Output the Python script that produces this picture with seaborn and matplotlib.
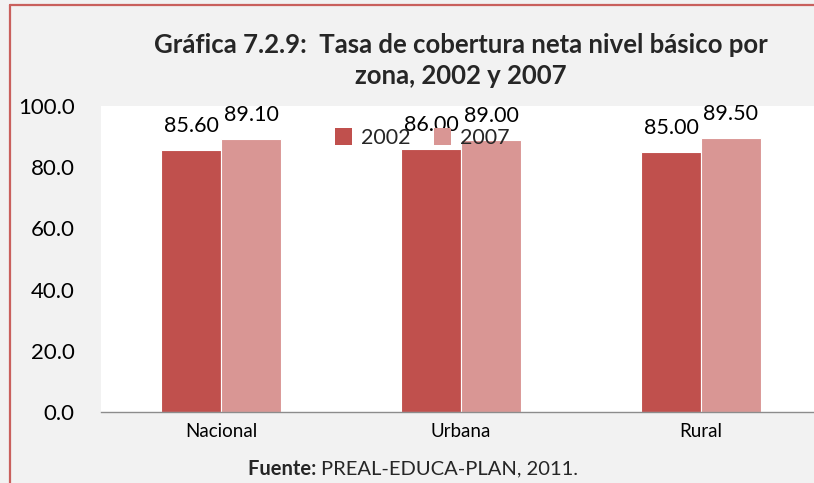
import matplotlib
matplotlib.use("Agg")
import matplotlib.pyplot as plt
from matplotlib.lines import Line2D
from matplotlib.patches import Patch
import seaborn as sns
import pandas as pd

# Data: tasa de cobertura neta, nivel básico, por zona
zonas = ["Nacional", "Urbana", "Rural"]
anios = ["2002", "2007"]
valores_2002 = [85.60, 86.00, 85.00]
valores_2007 = [89.10, 89.00, 89.50]
yticks = [0, 20, 40, 60, 80, 100]

colores = {"2002": "#c0504d", "2007": "#d99694"}
fondo = "#f2f2f2"
fuente = ["Lato", "DejaVu Sans"]

df = pd.DataFrame({
    "Zona": zonas * 2,
    "Año": ["2002"] * 3 + ["2007"] * 3,
    "Tasa": valores_2002 + valores_2007,
})

sns.set_theme(style="white")
plt.rcParams["font.family"] = fuente

W, H = 814, 483
fig = plt.figure(figsize=(W / 100, H / 100), dpi=100, facecolor=fondo)

# plot area in pixel coordinates
x0, x1 = 101, 821
y_top, y_bot = 106, 412
ax = fig.add_axes([x0 / W, 1 - y_bot / H, (x1 - x0) / W, (y_bot - y_top) / H])
ax.set_facecolor("white")

sns.barplot(data=df, x="Zona", y="Tasa", hue="Año", hue_order=anios,
            palette=colores, width=0.5, saturation=1, ax=ax,
            errorbar=None, legend=False, linewidth=0.8, edgecolor="white")

ax.set_xlim(-0.5, 2.5)
ax.set_ylim(0, 100)
ax.set_yticks(yticks)
ax.set_yticklabels([f"{v:.1f}" for v in yticks], fontsize=16, color="black")
ax.tick_params(axis="y", length=0, pad=19)
ax.tick_params(axis="x", length=0, pad=8, labelsize=13.5, labelcolor="black")
ax.set_xlabel("")
ax.set_ylabel("")

for s in ["top", "right", "left"]:
    ax.spines[s].set_visible(False)
ax.spines["bottom"].set_color("#8c8c8c")
ax.spines["bottom"].set_linewidth(1.0)

# value labels above each bar
for cont in ax.containers:
    for bar in cont:
        h = bar.get_height()
        ax.annotate(f"{h:.2f}", (bar.get_x() + bar.get_width() / 2, h),
                    xytext=(0, 10), textcoords="offset points",
                    ha="center", va="bottom", fontsize=15.5, color="black")

handles = [Patch(facecolor=colores[a], edgecolor="none") for a in anios]
ax.legend(handles, anios, loc="center", bbox_to_anchor=(0.446, 0.895),
          ncol=2, frameon=False, fontsize=15.5, handlelength=0.8,
          handleheight=0.8, handletextpad=0.4, columnspacing=1.1)

# title and source
fig.text((x0 + x1) / 2 / W, 1 - 45 / H,
         "Gráfica 7.2.9:  Tasa de cobertura neta nivel básico por",
         ha="center", va="center", fontsize=18.5, fontweight="bold")
fig.text((x0 + x1) / 2 / W, 1 - 76 / H, "zona, 2002 y 2007",
         ha="center", va="center", fontsize=18.5, fontweight="bold")

src_y = 1 - 469 / H
t1 = fig.text(0, src_y, "Fuente: ", ha="left", va="center",
              fontsize=14.5, fontweight="bold")
t2 = fig.text(0, src_y, "PREAL-EDUCA-PLAN, 2011.", ha="left", va="center",
              fontsize=14.5)
fig.canvas.draw()
r = fig.canvas.get_renderer()
w1 = t1.get_window_extent(r).width
w2 = t2.get_window_extent(r).width
start = 413 - (w1 + w2) / 2
t1.set_x(start / W)
t2.set_x((start + w1) / W)

# red frame on the left and top edges
frame = "#c9605d"
fig.add_artist(Line2D([10 / W, 10 / W], [0, 1 - 5 / H], transform=fig.transFigure,
                      color=frame, linewidth=1.6))
fig.add_artist(Line2D([10 / W, 1], [1 - 5 / H, 1 - 5 / H], transform=fig.transFigure,
                      color=frame, linewidth=1.6))

fig.savefig("out.png", dpi=100, facecolor=fondo)
